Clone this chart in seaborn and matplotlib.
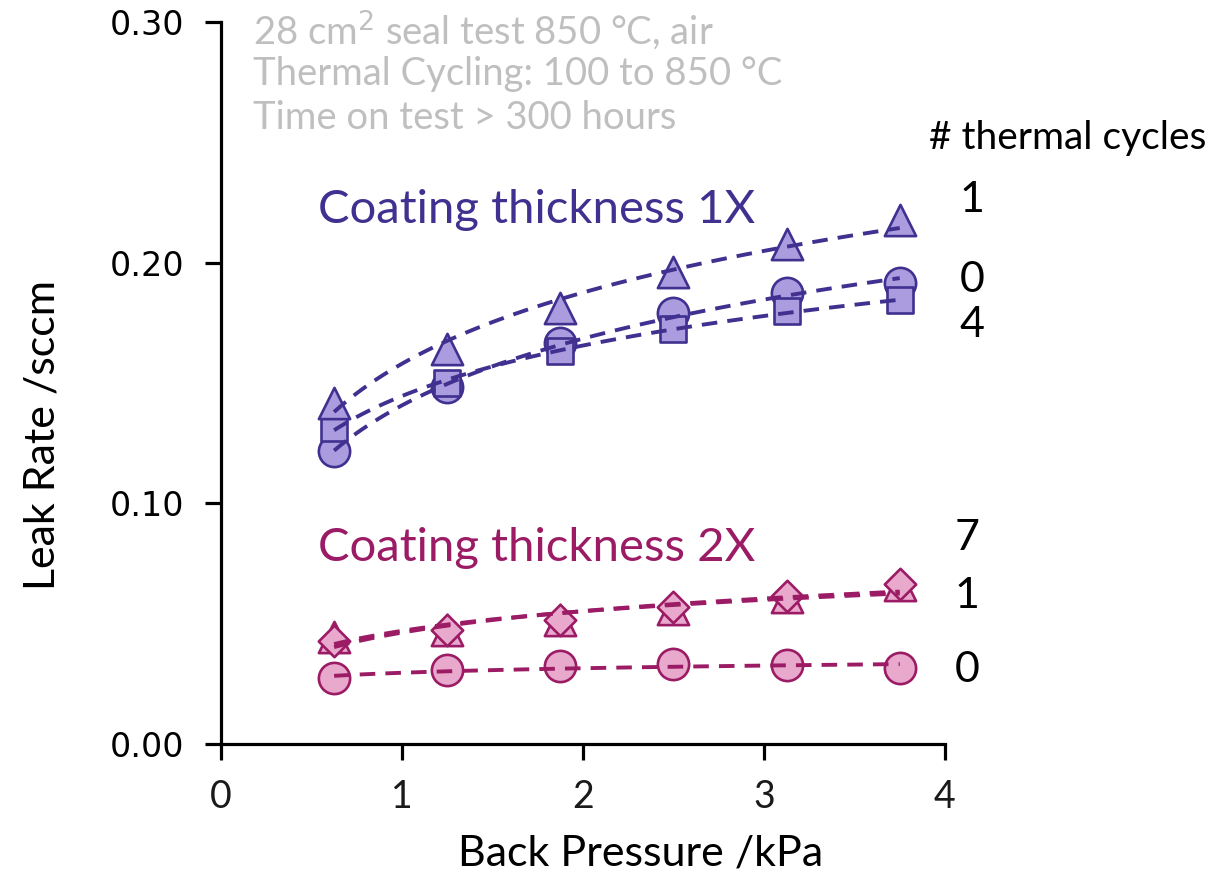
import matplotlib
matplotlib.use("Agg")
import matplotlib.pyplot as plt
import seaborn as sns
import pandas as pd

# Back pressure set points (kPa)
pressure = [0.625, 1.25, 1.875, 2.5, 3.125, 3.75]

# Leak rate (sccm), coating thickness 1X, by number of thermal cycles
leak_1x_cyc0 = [0.1219, 0.1483, 0.1666, 0.1791, 0.1872, 0.1914]
leak_1x_cyc1 = [0.1417, 0.1639, 0.1812, 0.1959, 0.2077, 0.2179]
leak_1x_cyc4 = [0.1311, 0.1500, 0.1634, 0.1725, 0.1799, 0.1843]

# Leak rate (sccm), coating thickness 2X, by number of thermal cycles
leak_2x_cyc0 = [0.0274, 0.0307, 0.0322, 0.0331, 0.0327, 0.0316]
leak_2x_cyc1 = [0.0445, 0.0472, 0.0513, 0.0559, 0.0611, 0.0661]
leak_2x_cyc7 = [0.0427, 0.0473, 0.0516, 0.0567, 0.0615, 0.0663]

y_ticks = [0.00, 0.10, 0.20, 0.30]
x_ticks = [0, 1, 2, 3, 4]

# Cycle labels placed at the right end of each group
cycle_labels_1x = ["1", "0", "4"]
cycle_label_y_1x = [0.226, 0.1928, 0.174]
cycle_labels_2x = ["7", "1", "0"]
cycle_label_y_2x = [0.0856, 0.0615, 0.0307]

note_lines = ["28 cm$^2$ seal test 850 \u00b0C, air",
              "Thermal Cycling: 100 to 850 \u00b0C",
              "Time on test > 300 hours"]

PURPLE_FILL = "#AA9CDE"
PURPLE_EDGE = "#40308F"
PINK_FILL = "#E9A9CD"
PINK_EDGE = "#9B1B65"
GREY = "#BFBFBF"

sns.set_style("ticks")
plt.rcParams["font.family"] = ["Lato", "DejaVu Sans"]
plt.rcParams["text.color"] = "black"

fig = plt.figure(figsize=(12.29, 8.77), dpi=100)
ax = fig.add_axes([0.1798, 0.1517, 0.5891, 0.8233])

series = [
    # values, marker, size (pt), fill, edge, z-order
    (leak_1x_cyc0, "o", 22.5, PURPLE_FILL, PURPLE_EDGE, 2),
    (leak_1x_cyc4, "s", 18.5, PURPLE_FILL, PURPLE_EDGE, 3),
    (leak_1x_cyc1, "^", 22.5, PURPLE_FILL, PURPLE_EDGE, 4),
    (leak_2x_cyc0, "o", 22.5, PINK_FILL, PINK_EDGE, 2),
    (leak_2x_cyc1, "^", 22.5, PINK_FILL, PINK_EDGE, 3),
    (leak_2x_cyc7, "D", 16.0, PINK_FILL, PINK_EDGE, 4),
]

for vals, mk, size, fill, edge, z in series:
    df = pd.DataFrame({"pressure": pressure, "leak": vals})
    sns.scatterplot(data=df, x="pressure", y="leak", marker=mk, s=size ** 2,
                    color=fill, edgecolor=edge, linewidth=1.9, zorder=z,
                    legend=False, ax=ax)
    # logarithmic trend line through each series
    sns.regplot(data=df, x="pressure", y="leak", logx=True, scatter=False,
                ci=None, truncate=True, ax=ax,
                line_kws=dict(color=edge, lw=2.8, linestyle=(0, (4, 2.6)),
                              zorder=6))

ax.set_xlim(0, 4)
ax.set_ylim(0, 0.30)
ax.set_xticks(x_ticks)
ax.set_yticks(y_ticks)
ax.set_yticklabels([f"{v:.2f}" for v in y_ticks], family="DejaVu Sans",
                   fontsize=24, color="black")
ax.set_xticklabels([str(v) for v in x_ticks], fontsize=27, color="#1a1a1a")
sns.despine(ax=ax)
for side in ("left", "bottom"):
    ax.spines[side].set_linewidth(2.3)
    ax.spines[side].set_color("black")
ax.tick_params(axis="both", direction="out", length=11.5, width=2.3, color="black")
ax.tick_params(axis="y", pad=15)
ax.tick_params(axis="x", pad=14)

ax.set_xlabel("Back Pressure /kPa", fontsize=31, va="center", color="black")
ax.set_ylabel("Leak Rate /sccm", fontsize=31, va="center", color="black")
ax.xaxis.set_label_coords(0.579, -0.152)
ax.yaxis.set_label_coords(-0.246, 0.428)

# Test-condition notes
for i, line in enumerate(note_lines):
    ax.text(0.177, 0.2966 - i * 0.0183, line, fontsize=27.5, color=GREY,
            ha="left", va="center")

ax.text(0.536, 0.2218, "Coating thickness 1X", fontsize=34, color=PURPLE_EDGE,
        ha="left", va="center")
ax.text(0.536, 0.0814, "Coating thickness 2X", fontsize=34, color=PINK_EDGE,
        ha="left", va="center")

ax.text(4.68, 0.2518, "# thermal cycles", fontsize=28, color="black",
        ha="center", va="center", clip_on=False)
for lab, yv in zip(cycle_labels_1x, cycle_label_y_1x):
    ax.text(4.15, yv, lab, fontsize=31, color="black",
            ha="center", va="center", clip_on=False)
for lab, yv in zip(cycle_labels_2x, cycle_label_y_2x):
    ax.text(4.12, yv, lab, fontsize=31, color="black",
            ha="center", va="center", clip_on=False)

fig.savefig("out.png", dpi=100)
